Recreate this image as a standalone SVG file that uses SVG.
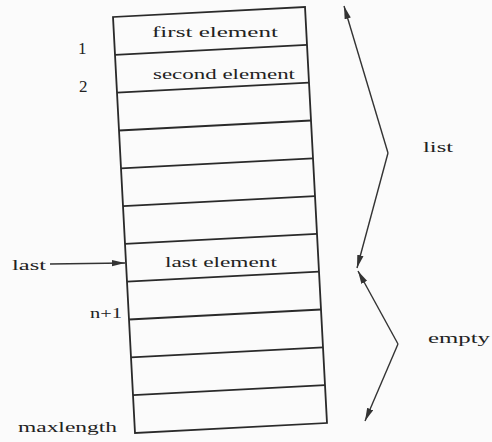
<svg xmlns="http://www.w3.org/2000/svg" width="492" height="442" viewBox="0 0 492 442">
  <style>
    .cell { fill: none; stroke: #2a2a2a; stroke-width: 1.8; }
    .txt { font-family: "Liberation Serif", "DejaVu Serif", serif; font-size: 15px; fill: #222; }
    .idx { font-size: 17px; }
    .conn { fill: none; stroke: #333; stroke-width: 1.4; }
  </style>
  <defs>
    <marker id="head" markerUnits="userSpaceOnUse" markerWidth="14" markerHeight="8" refX="13" refY="4" orient="auto">
      <path d="M0,0.8 L13,4 L0,7.2 Z" fill="#333"/>
    </marker>
  </defs>
  <rect width="492" height="442" fill="#fbfbfb"/>

  <!-- array of cells, slightly skewed as printed -->
  <g id="array" transform="matrix(1,-0.052,0.0529,1,113,17)">
    <rect class="cell" x="0" y="0" width="192" height="416"/>
    <path class="cell" d="M0,37.8H192 M0,75.6H192 M0,113.5H192 M0,151.3H192 M0,189.1H192 M0,226.9H192 M0,264.7H192 M0,302.5H192 M0,340.4H192 M0,378.2H192"/>
  </g>

  <g id="cell-first"><text class="txt" x="152" y="37" textLength="126" lengthAdjust="spacingAndGlyphs">first element</text></g>
  <g id="cell-second"><text class="txt" x="153" y="79" textLength="142" lengthAdjust="spacingAndGlyphs">second element</text></g>
  <g id="cell-last"><text class="txt" x="165" y="267" textLength="112" lengthAdjust="spacingAndGlyphs">last element</text></g>

  <g id="index-1"><text class="txt idx" x="78" y="54">1</text></g>
  <g id="index-2"><text class="txt idx" x="79" y="92">2</text></g>
  <g id="index-n1"><text class="txt" x="90" y="318" textLength="32" lengthAdjust="spacingAndGlyphs">n+1</text></g>
  <g id="index-max"><text class="txt" x="18" y="432" textLength="99" lengthAdjust="spacingAndGlyphs">maxlength</text></g>
  <g id="pointer-last"><text class="txt" x="12" y="270" textLength="34" lengthAdjust="spacingAndGlyphs">last</text></g>

  <g id="label-list"><text class="txt" x="423" y="152" textLength="30" lengthAdjust="spacingAndGlyphs">list</text></g>
  <g id="label-empty"><text class="txt" x="428" y="343" textLength="62" lengthAdjust="spacingAndGlyphs">empty</text></g>

  <g id="connectors">
    <path class="conn" d="M50,264 L125,263" marker-end="url(#head)"/>
    <path class="conn" d="M388,153 L344,6" marker-end="url(#head)"/>
    <path class="conn" d="M388,153 L357,268" marker-end="url(#head)"/>
    <path class="conn" d="M398,344 L358,271" marker-end="url(#head)"/>
    <path class="conn" d="M398,344 L365,421" marker-end="url(#head)"/>
  </g>
</svg>
